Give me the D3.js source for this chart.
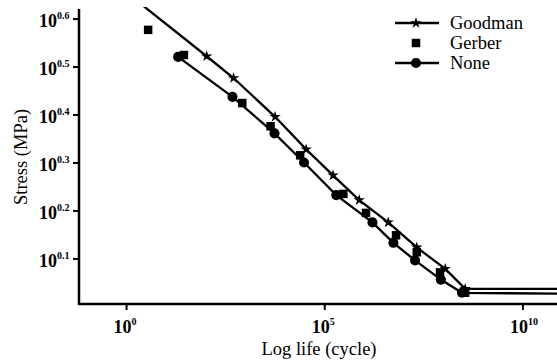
<!DOCTYPE html>
<html>
<head>
<meta charset="utf-8">
<script src="https://cdn.jsdelivr.net/npm/d3@7"></script>
<style>
  body { margin: 0; background: #fff; }
  svg text { font-family: "Times New Roman", "Liberation Serif", "DejaVu Serif", serif; fill: #000; }
</style>
</head>
<body>
<svg id="chart" width="557" height="364"></svg>
<script>
// life in cycles, stress in MPa
const goodmanLife   = [2, 105, 500, 5600, 34000, 162000, 740000, 4.0e6, 2.1e7, 1.1e8, 3.5e8, 1e11];
const goodmanStress = [4.32, 3.33, 3.00, 2.49, 2.13, 1.88, 1.67, 1.50, 1.33, 1.20, 1.09, 1.09];

const gerberLife   = [3.5, 28, 830, 4300, 24000, 295000, 1.1e6, 6.3e6, 2.1e7, 8.1e7, 3.5e8];
const gerberStress = [3.78, 3.35, 2.66, 2.38, 2.07, 1.72, 1.57, 1.41, 1.30, 1.18, 1.07];

const noneLife   = [20, 470, 5400, 30000, 195000, 1.6e6, 5.4e6, 1.9e7, 8.5e7, 2.9e8, 1e11];
const noneStress = [3.32, 2.74, 2.30, 2.00, 1.71, 1.50, 1.36, 1.25, 1.14, 1.07, 1.065];

const xTickExp = [0, 5, 10];
const yTickExp = [0.1, 0.2, 0.3, 0.4, 0.5, 0.6];
const legendNames = ["Goodman", "Gerber", "None"];

const svg = d3.select("#chart")
  .attr("font-family", "'Times New Roman', 'Liberation Serif', serif");
const mLeft = 79, mRight = 557, mTop = 9, mBottom = 304;

const x = d3.scaleLog()
  .domain([Math.pow(10, -1.2), Math.pow(10, 10.86)])
  .range([mLeft, mRight]);
const y = d3.scaleLog()
  .domain([Math.pow(10, 0.006), Math.pow(10, 0.621)])
  .range([mBottom, mTop]);

svg.append("clipPath").attr("id", "plot")
  .append("rect").attr("x", mLeft).attr("y", mTop - 2)
  .attr("width", mRight - mLeft).attr("height", mBottom - mTop + 2);

const zip = (a, b) => a.map((v, i) => [v, b[i]]);
const goodman = zip(goodmanLife, goodmanStress);
const gerber = zip(gerberLife, gerberStress);
const none = zip(noneLife, noneStress);

const line = d3.line().x(d => x(d[0])).y(d => y(d[1]));
const g = svg.append("g").attr("clip-path", "url(#plot)");

g.append("path").datum(goodman).attr("d", line)
  .attr("fill", "none").attr("stroke", "#000").attr("stroke-width", 2.3);
g.append("path").datum(none).attr("d", line)
  .attr("fill", "none").attr("stroke", "#000").attr("stroke-width", 2.3);

const star = d3.symbol().type(d3.symbolStar).size(40);
const sq = d3.symbol().type(d3.symbolSquare).size(72);
const circ = d3.symbol().type(d3.symbolCircle).size(80);

// markers (last line point has no marker)
g.selectAll(".gm").data(goodman.slice(1, -1)).enter().append("path")
  .attr("d", star).attr("fill", "#000")
  .attr("transform", d => `translate(${x(d[0])},${y(d[1])})`);
g.selectAll(".nm").data(none.slice(0, -1)).enter().append("path")
  .attr("d", circ).attr("fill", "#000")
  .attr("transform", d => `translate(${x(d[0])},${y(d[1])})`);
g.selectAll(".gr").data(gerber).enter().append("path")
  .attr("d", sq).attr("fill", "#000")
  .attr("transform", d => `translate(${x(d[0])},${y(d[1])})`);

// axes
const supLabel = (sel, exp) => {
  sel.text("10").append("tspan")
    .attr("dy", -8).attr("font-size", 10).text(exp);
};

const xAxis = svg.append("g").attr("transform", `translate(0,${mBottom})`);
xAxis.append("line").attr("x1", mLeft - 1).attr("x2", mRight)
  .attr("stroke", "#000").attr("stroke-width", 2.5);
xTickExp.forEach(e => {
  const px = x(Math.pow(10, e));
  xAxis.append("line").attr("x1", px).attr("x2", px).attr("y1", 0).attr("y2", 6)
    .attr("stroke", "#000").attr("stroke-width", 2);
  xAxis.append("text").attr("x", px - 13).attr("y", 29)
    .attr("font-size", 18).attr("font-weight", "bold")
    .call(supLabel, e);
});

const yAxis = svg.append("g").attr("transform", `translate(${mLeft},0)`);
yAxis.append("line").attr("y1", mTop).attr("y2", mBottom + 1)
  .attr("stroke", "#000").attr("stroke-width", 2.5);
yTickExp.forEach(e => {
  const py = y(Math.pow(10, e));
  yAxis.append("line").attr("x1", -6).attr("x2", 0).attr("y1", py).attr("y2", py)
    .attr("stroke", "#000").attr("stroke-width", 2);
  yAxis.append("text").attr("x", -40).attr("y", py + 8)
    .attr("font-size", 18).attr("font-weight", "bold")
    .call(supLabel, e.toFixed(1));
});

svg.append("text").attr("x", 319).attr("y", 355)
  .attr("text-anchor", "middle").attr("font-size", 18.5)
  .text("Log life (cycle)");
svg.append("text")
  .attr("transform", `translate(27,157) rotate(-90)`)
  .attr("text-anchor", "middle").attr("font-size", 18.5)
  .text("Stress (MPa)");

// legend
const legend = svg.append("g").attr("transform", "translate(395,23)");
legendNames.forEach((name, i) => {
  const row = legend.append("g").attr("transform", `translate(0,${i * 20})`);
  if (name !== "Gerber") {
    row.append("line").attr("x1", 0).attr("x2", 44)
      .attr("stroke", "#000").attr("stroke-width", 2.3);
  }
  row.append("path").attr("transform", "translate(21,0)")
    .attr("d", name === "Goodman" ? star : name === "Gerber" ? sq : circ)
    .attr("fill", "#000");
  row.append("text").attr("x", 55).attr("y", 6)
    .attr("font-size", 18.5).text(name);
});
</script>
</body>
</html>
